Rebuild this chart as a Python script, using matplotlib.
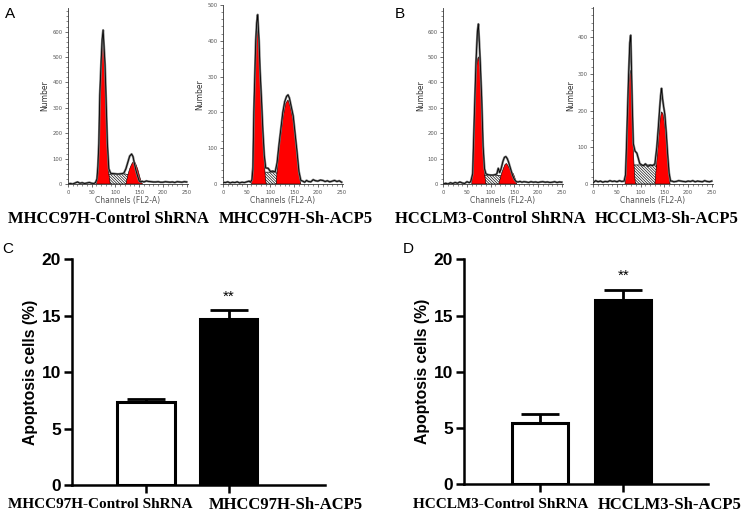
import matplotlib
matplotlib.use('Agg')
import matplotlib.pyplot as plt
from matplotlib.ticker import MultipleLocator

plt.rcParams['hatch.linewidth'] = 0.45

# ---- cell cycle histograms (channel, count) ----
a1_ch = [0, 5, 10, 15, 20, 25, 30, 35, 40, 45, 50, 55, 58, 61, 63, 65, 67, 70, 72, 74, 76, 78, 80, 83, 86, 90, 95,
         100, 105, 110, 115, 118, 122, 126, 130, 134, 137, 140, 143, 146, 150, 153, 156, 160, 165, 170, 175, 180,
         185, 190, 195, 200, 205, 210, 215, 220, 225, 230, 235, 240, 245, 250]
a1_cnt = [0, 2, 0, 4, 8, 3, 5, 2, 4, 6, 3, 2, 6, 20, 70, 160, 350, 490, 570, 606, 540, 470, 350, 160, 60, 42, 41,
          40, 39, 40, 41, 44, 60, 85, 110, 118, 108, 80, 55, 35, 12, 8, 11, 8, 12, 10, 9, 8,
          8, 9, 7, 7, 9, 8, 7, 8, 6, 9, 8, 7, 9, 8]
a1_g1x = [60, 63, 65, 67, 70, 72, 74, 76, 77.5, 79.6, 83, 86, 89]
a1_g1y = [0, 40, 134, 330, 462, 540, 580, 520, 462, 330, 134, 40, 0]
a1_g2x = [122, 127, 130, 134, 139, 143, 147, 151, 154, 157]
a1_g2y = [0, 42, 60, 78, 92, 78, 58, 30, 10, 0]
a1_sx = [70, 80, 86, 120, 128, 138, 148]
a1_sy = [0, 25, 38, 40, 35, 15, 0]

a2_ch = [0, 5, 10, 15, 20, 25, 30, 35, 40, 45, 50, 55, 58, 61, 63, 65, 69, 71, 73, 76, 78, 81, 84, 87, 90, 95,
         100, 105, 110, 114, 118, 122, 126, 130, 134, 137, 140, 144, 148, 152, 156, 160, 164, 168, 172, 176,
         180, 185, 190, 195, 200, 205, 210, 215, 220, 225, 230, 235, 240, 245, 250]
a2_cnt = [5, 4, 6, 3, 5, 4, 6, 3, 5, 4, 6, 8, 5, 12, 40, 200, 400, 450, 473, 400, 320, 240, 150, 80, 45, 44,
          35, 36, 34, 60, 110, 155, 200, 230, 245, 249, 240, 215, 190, 140, 90, 35, 10, 8, 5, 10,
          7, 6, 12, 9, 8, 11, 10, 7, 9, 6, 8, 10, 7, 9, 5]
a2_g1x = [60, 63.4, 65.5, 69, 71, 73, 76, 78, 81, 86, 89, 91]
a2_g1y = [0, 95, 235, 375, 420, 431, 375, 300, 235, 95, 20, 0]
a2_g2x = [112, 117.6, 122, 126.8, 132, 137, 142, 149, 155, 160, 164]
a2_g2y = [0, 95, 140, 188, 225, 235, 215, 170, 95, 30, 0]
a2_sx = [70, 80, 86, 124, 135, 150, 160]
a2_sy = [0, 25, 33, 33, 25, 10, 0]

b1_ch = [0, 5, 10, 15, 20, 25, 30, 35, 40, 45, 50, 55, 58, 62, 64, 67, 69, 72, 74, 76, 78, 81, 84, 87, 90, 95,
         100, 105, 110, 113, 116, 119, 122, 126, 129, 132, 135, 138, 142, 146, 150, 154, 158, 162, 166, 170,
         175, 180, 185, 190, 195, 200, 205, 210, 215, 220, 225, 230, 235, 240, 245, 250]
b1_cnt = [0, 3, 0, 5, 2, 6, 3, 8, 4, 2, 9, 5, 10, 40, 170, 360, 480, 600, 630, 560, 480, 340, 150, 60, 40, 36,
          35, 35, 37, 40, 62, 45, 60, 90, 105, 108, 100, 85, 60, 35, 18, 9, 8, 10, 7, 9,
          8, 6, 9, 7, 8, 6, 8, 9, 7, 8, 6, 7, 9, 6, 8, 7]
b1_g1x = [60, 63.4, 67, 69, 72, 74, 76, 78, 81, 84.5, 87, 90]
b1_g1y = [0, 134, 330, 440, 490, 501, 480, 462, 330, 134, 40, 0]
b1_g2x = [117, 123, 127, 130, 133, 136, 140, 144, 148, 151, 155]
b1_g2y = [0, 42, 62, 76, 81, 74, 60, 48, 40, 25, 0]
b1_sx = [70, 80, 86, 118, 124, 132, 144]
b1_sy = [0, 24, 33, 34, 30, 15, 0]

b2_ch = [0, 5, 10, 15, 20, 25, 30, 35, 40, 45, 50, 55, 60, 65, 68, 70, 72.5, 74.6, 77, 79, 80.3, 82.4, 84.5, 88, 92,
         95, 98, 102, 106, 110, 115, 120, 125, 130, 134, 137, 140, 142, 144, 146, 148, 151, 154, 157, 160, 163,
         166, 170, 175, 180, 185, 190, 195, 200, 205, 210, 215, 220, 225, 230, 235, 240, 245, 250]
b2_cnt = [4, 9, 6, 8, 5, 7, 6, 9, 7, 8, 6, 9, 7, 8, 25, 100, 210, 300, 385, 406, 330, 210, 110, 90, 84,
          70, 56, 52, 50, 55, 48, 52, 50, 55, 100, 150, 205, 240, 261, 235, 215, 190, 140, 80, 30, 8,
          8, 6, 7, 9, 8, 7, 6, 8, 7, 9, 6, 8, 7, 6, 9, 7, 6, 8]
b2_g1x = [67, 70.4, 72.5, 74.6, 77, 79, 80.3, 82.4, 84.5, 87, 89]
b2_g1y = [0, 93, 184, 275, 300, 311, 275, 184, 93, 25, 0]
b2_g2x = [130, 136, 141, 144, 147, 150, 153.5, 158, 162]
b2_g2y = [0, 93, 175, 197, 192, 170, 130, 50, 0]
b2_sx = [73, 82, 86, 132, 145, 162]
b2_sy = [0, 45, 52, 52, 25, 0]

hist_names = ['MHCC97H-Control ShRNA', 'MHCC97H-Sh-ACP5', 'HCCLM3-Control ShRNA', 'HCCLM3-Sh-ACP5']

# ---- apoptosis bar charts ----
c_groups = ['MHCC97H-Control ShRNA', 'MHCC97H-Sh-ACP5']
c_vals = [7.33, 14.68]
c_err = [0.32, 0.82]
d_groups = ['HCCLM3-Control ShRNA', 'HCCLM3-Sh-ACP5']
d_vals = [5.42, 16.38]
d_err = [0.83, 0.89]
sig = ['', '**']

W, H = 751, 525
fig = plt.figure(figsize=(7.51, 5.25), dpi=100)


def px_axes(left, top, width, height):
    return fig.add_axes([left / W, 1 - (top + height) / H, width / W, height / H])


def draw_hist(ax, ch, cnt, g1x, g1y, g2x, g2y, sx, sy, ymax, ystep):
    ax.fill(sx, sy, facecolor='white', edgecolor='black', hatch='\\' * 12, lw=0.5, zorder=1)
    ax.fill(g1x, g1y, facecolor='#ff0000', edgecolor='black', lw=0.4, zorder=2)
    ax.fill(g2x, g2y, facecolor='#ff0000', edgecolor='black', lw=0.4, zorder=2)
    ax.plot(ch, cnt, color='#777777', lw=1.6, zorder=3)
    ax.plot(ch, cnt, color='black', lw=0.6, zorder=4)
    ax.set_xlim(0, 252)
    ax.set_ylim(0, ymax)
    ax.xaxis.set_major_locator(MultipleLocator(50))
    ax.xaxis.set_minor_locator(MultipleLocator(10))
    ax.yaxis.set_major_locator(MultipleLocator(ystep))
    ax.yaxis.set_minor_locator(MultipleLocator(ystep / 5))
    for s in ['top', 'right']:
        ax.spines[s].set_visible(False)
    for s in ['left', 'bottom']:
        ax.spines[s].set_linewidth(0.6)
        ax.spines[s].set_color('#333333')
    ax.tick_params(which='major', length=2.5, width=0.5, labelsize=3.8, labelcolor='#555555', pad=1.5,
                   color='#333333')
    ax.tick_params(which='minor', length=1.2, width=0.4, color='#333333')
    ax.set_xlabel('Channels (FL2-A)', fontsize=5.5, color='#555555', labelpad=1)
    ax.set_ylabel('Number', fontsize=5.5, color='#333333', labelpad=2)


hist_axes = [
    (68, 8, 119.6, 176, 693, a1_ch, a1_cnt, a1_g1x, a1_g1y, a1_g2x, a1_g2y, a1_sx, a1_sy),
    (223, 5, 119.6, 179, 500, a2_ch, a2_cnt, a2_g1x, a2_g1y, a2_g2x, a2_g2y, a2_sx, a2_sy),
    (443.3, 8, 119.4, 176, 693, b1_ch, b1_cnt, b1_g1x, b1_g1y, b1_g2x, b1_g2y, b1_sx, b1_sy),
    (593.3, 7, 119.4, 177, 483, b2_ch, b2_cnt, b2_g1x, b2_g1y, b2_g2x, b2_g2y, b2_sx, b2_sy),
]
for left, top, w, h, ymax, *data in hist_axes:
    ax = px_axes(left, top, w, h)
    draw_hist(ax, *data, ymax=ymax, ystep=100)

serif = dict(family='Liberation Serif', weight='bold')
for name, xc in zip(hist_names, [108, 296, 490, 667]):
    fig.text(xc / W, 1 - 219 / H, name, ha='center', va='center', fontsize=12, **serif)


def draw_bars(ax, groups, vals, errs, width, xlim):
    pos = list(range(len(groups)))
    ax.bar(pos, vals, width, color=['white', 'black'], edgecolor='black', linewidth=2.2, zorder=2)
    ax.errorbar(pos, vals, yerr=[[0] * len(errs), errs], fmt='none', ecolor='black',
                elinewidth=2, capsize=14, capthick=2, zorder=1)
    for p, v, e, s in zip(pos, vals, errs, sig):
        if s:
            ax.text(p, v + e + 0.6, s, ha='center', va='bottom', fontsize=11,
                    family='Liberation Sans')
    ax.set_xlim(*xlim)
    ax.set_ylim(0, 20)
    ax.set_yticks([0, 5, 10, 15, 20])
    ax.set_xticks(pos)
    ax.set_xticklabels([])
    for s in ['top', 'right']:
        ax.spines[s].set_visible(False)
    for s in ['left', 'bottom']:
        ax.spines[s].set_linewidth(1.8)
    ax.tick_params(length=6, width=1.8, pad=2)
    for lab in ax.get_yticklabels():
        lab.set_fontweight('bold')
        lab.set_fontsize(12.5)
        lab.set_family('Liberation Sans')
    ax.set_ylabel('Apoptosis cells (%)', fontsize=11.3, fontweight='bold', family='Liberation Sans',
                  labelpad=3)


axc = px_axes(72.3, 259.3, 252.7, 225.7)
draw_bars(axc, c_groups, c_vals, c_err, 0.687, (-0.888, 2.157))
axd = px_axes(464.3, 259.3, 243.7, 225)
draw_bars(axd, d_groups, d_vals, d_err, 0.672, (-0.909, 2.017))

# the control labels under the bars are narrower in the source
for name, xc, fs in zip(c_groups + d_groups, [100, 286, 501, 670], [11, 12, 11, 12]):
    fig.text(xc / W, 1 - 505 / H, name, ha='center', va='center', fontsize=fs, **serif)

letters = [('A', 10, 14), ('B', 400, 14), ('C', 8, 249), ('D', 408, 249)]
for t, x, y in letters:
    fig.text(x / W, 1 - y / H, t, ha='center', va='center', fontsize=11, family='Liberation Sans')

fig.savefig('out.png', dpi=100)
